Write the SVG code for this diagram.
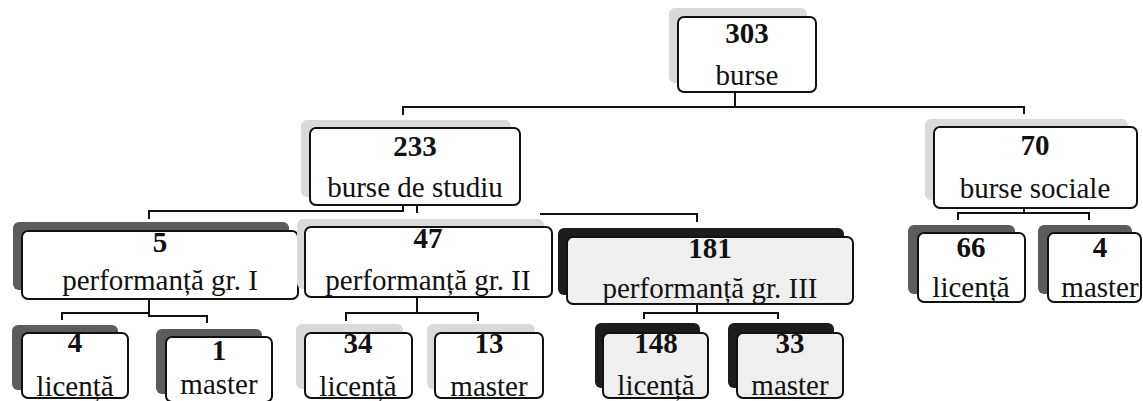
<svg xmlns="http://www.w3.org/2000/svg" width="1143" height="401" viewBox="0 0 1143 401">
<style>
.bx{fill:#fff;stroke:#111;stroke-width:2}
.bg{fill:#efefef}
.sl{fill:#dadada}
.sd{fill:#5c5c5c}
.sk{fill:#1c1c1c}
.num{font-family:"Liberation Serif","Times New Roman",serif;font-weight:bold;font-size:29px;text-anchor:middle;fill:#111}
.lbl{font-family:"Liberation Serif","Times New Roman",serif;font-size:29px;text-anchor:middle;fill:#111}
.conn path{fill:none;stroke:#111;stroke-width:2}
</style>
<rect width="1143" height="401" fill="#fff"/>
<g id="connectors" class="conn">
<path d="M735,92 V107 M403,115 V107 H1024 V114"/>
<path d="M149,219 V211 H403 V205 M417,205 V213 M540,214 H697 V222"/>
<path d="M62,320 V313 H149 M149,299 V316 H207 V323"/>
<path d="M417,297 V313 M346,321 V313 H478 V321"/>
<path d="M697,304 V313 M644,319 V313 H778 V319"/>
<path d="M1024,208 V213 M958,220 V213 H1089 V220"/>
</g>
<g id="n303"><rect class="sl" x="669" y="8" width="138" height="75" rx="6"/><rect class="bx" x="678" y="17" width="138" height="75" rx="6"/><text class="num" x="747" y="43">303</text><text class="lbl" x="747" y="85">burse</text></g>
<g id="n233"><rect class="sl" x="301" y="120" width="210" height="77" rx="6"/><rect class="bx" x="310" y="128" width="210" height="77" rx="6"/><text class="num" x="415" y="156">233</text><text class="lbl" x="415" y="197">burse de studiu</text></g>
<g id="n70"><rect class="sl" x="925" y="119" width="203" height="81" rx="6"/><rect class="bx" x="934" y="127" width="203" height="81" rx="6"/><text class="num" x="1035" y="155">70</text><text class="lbl" x="1035" y="198">burse sociale</text></g>
<g id="n5"><rect class="sd" x="13" y="222" width="276" height="68" rx="6"/><rect class="bx" x="22" y="231" width="276" height="68" rx="6"/><text class="num" x="160" y="252">5</text><text class="lbl" x="160" y="290">performanță gr. I</text></g>
<g id="n47"><rect class="sl" x="297" y="219" width="247" height="70" rx="6"/><rect class="bx" x="305" y="227" width="247" height="70" rx="6"/><text class="num" x="428" y="248">47</text><text class="lbl" x="428" y="290">performanță gr. II</text></g>
<g id="n181"><rect class="sk" x="558" y="228" width="286" height="67" rx="6"/><rect class="bx bg" x="567" y="237" width="286" height="67" rx="6"/><text class="num" x="710" y="258">181</text><text class="lbl" x="710" y="298">performanță gr. III</text></g>
<g id="n66"><rect class="sd" x="908" y="225" width="107" height="69" rx="6"/><rect class="bx" x="918" y="233" width="107" height="69" rx="6"/><text class="num" x="971" y="257">66</text><text class="lbl" x="971" y="297">licență</text></g>
<g id="n4s"><rect class="sd" x="1038" y="225" width="94" height="69" rx="6"/><rect class="bx" x="1048" y="233" width="93" height="69" rx="6"/><text class="num" x="1100" y="257">4</text><text class="lbl" x="1100" y="297">master</text></g>
<g id="n4"><rect class="sd" x="12" y="325" width="106" height="65" rx="6"/><rect class="bx" x="22" y="333" width="106" height="65" rx="6"/><text class="num" x="75" y="352">4</text><text class="lbl" x="75" y="396">licență</text></g>
<g id="n1"><rect class="sd" x="156" y="329" width="106" height="65" rx="6"/><rect class="bx" x="166" y="337" width="106" height="65" rx="6"/><text class="num" x="219" y="360">1</text><text class="lbl" x="219" y="394">master</text></g>
<g id="n34"><rect class="sl" x="296" y="324" width="107" height="65" rx="6"/><rect class="bx" x="305" y="333" width="107" height="65" rx="6"/><text class="num" x="358" y="353">34</text><text class="lbl" x="358" y="396">licență</text></g>
<g id="n13"><rect class="sl" x="427" y="324" width="108" height="65" rx="6"/><rect class="bx" x="435" y="333" width="108" height="65" rx="6"/><text class="num" x="489" y="353">13</text><text class="lbl" x="489" y="396">master</text></g>
<g id="n148"><rect class="sk" x="595" y="323" width="105" height="65" rx="6"/><rect class="bx bg" x="603" y="333" width="105" height="65" rx="6"/><text class="num" x="656" y="353">148</text><text class="lbl" x="656" y="395">licență</text></g>
<g id="n33"><rect class="sk" x="728" y="323" width="106" height="65" rx="6"/><rect class="bx bg" x="737" y="333" width="106" height="65" rx="6"/><text class="num" x="790" y="353">33</text><text class="lbl" x="790" y="395">master</text></g>
</svg>
